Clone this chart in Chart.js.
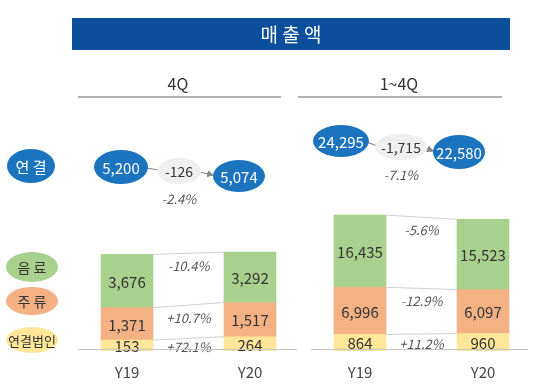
<!DOCTYPE html>
<html>
<head>
<meta charset="utf-8">
<script src="https://cdn.jsdelivr.net/npm/chart.js@4"></script>
<style>
  body { margin: 0; background: #fff; }
  #wrap { position: relative; width: 550px; height: 385px; overflow: hidden; }
  canvas, svg { position: absolute; left: 0; top: 0; }
  svg text { font-family: 'Noto Sans CJK KR', 'Noto Sans', sans-serif; }
</style>
</head>
<body>
<div id="wrap">
  <canvas id="chart4q" width="550" height="385"></canvas>
  <canvas id="chartYtd" width="550" height="385"></canvas>
  <svg id="deco" width="550" height="385"></svg>
</div>
<script>
const categories = ["Y19", "Y20"];
const segmentNames = ["연결법인", "주 류", "음 료"];

// 4Q
const affiliates4Q = [153, 264];
const liquor4Q = [1371, 1517];
const beverage4Q = [3676, 3292];
const change4Q = ["+72.1%", "+10.7%", "-10.4%"];
const total4Q = [5200, 5074];
const totalDiff4Q = -126;
const totalPct4Q = "-2.4%";

// 1~4Q
const affiliatesYtd = [864, 960];
const liquorYtd = [6996, 6097];
const beverageYtd = [16435, 15523];
const changeYtd = ["+11.2%", "-12.9%", "-5.6%"];
const totalYtd = [24295, 22580];
const totalDiffYtd = -1715;
const totalPctYtd = "-7.1%";

const segColors = ["#ffe699", "#f4b183", "#a9d18e"];
const blue = "#1c74bf";
const fontFamily = "'Noto Sans CJK KR', 'Noto Sans', sans-serif";

Chart.defaults.font.family = fontFamily;

const fmt = (v) => v.toLocaleString("en-US");

// the source draws the segments compressed (not to scale); square root
// keeps the order of sizes while leaving room for the small labels
const squash = (v) => Math.sqrt(v);

const barPlugin = {
    id: "barExtras",
    afterDatasetsDraw(chart, args, opts) {
        const ctx = chart.ctx;
        ctx.save();
        chart.data.datasets.forEach((ds, i) => {
            const bars = chart.getDatasetMeta(i).data;
            // value labels
            ctx.fillStyle = "#333";
            ctx.font = "15px " + fontFamily;
            ctx.textAlign = "center";
            ctx.textBaseline = "middle";
            bars.forEach((bar, j) => {
                const mid = (bar.y + bar.base) / 2;
                ctx.fillText(fmt(ds.raw[j]), bar.x, mid + 1);
            });
            // connector between the two bars
            const a = bars[0], b = bars[1];
            const x1 = a.x + a.width / 2, x2 = b.x - b.width / 2;
            ctx.strokeStyle = "#cfcfcf";
            ctx.lineWidth = 1;
            ctx.beginPath();
            ctx.moveTo(x1, a.y);
            ctx.lineTo(x2, b.y);
            ctx.stroke();
            // change label, near the top of the band
            const top = (a.y + b.y) / 2;
            const mid = (a.y + a.base + b.y + b.base) / 4;
            ctx.fillStyle = "#555";
            ctx.font = "italic 13px " + fontFamily;
            ctx.fillText(opts.changes[i], (x1 + x2) / 2, Math.min(top + 13, mid + 2));
        });
        ctx.restore();
    }
};

const makeChart = (id, sets, changes, yMax, padLeft, padRight) => {
    const ctx = document.getElementById(id).getContext("2d");
    return new Chart(ctx, {
        type: "bar",
        data: {
            labels: categories,
            datasets: sets.map((vals, i) => ({
                label: segmentNames[i],
                data: vals.map(squash),
                raw: vals,
                backgroundColor: segColors[i],
                borderWidth: 0,
                barThickness: 52
            }))
        },
        options: {
            responsive: false,
            animation: false,
            layout: { padding: { left: padLeft, right: padRight, top: 200, bottom: 0 } },
            plugins: {
                legend: { display: false },
                tooltip: { enabled: false },
                barExtras: { changes: changes }
            },
            scales: {
                x: {
                    stacked: true,
                    grid: { display: false },
                    border: { display: false },
                    ticks: { color: "#444", font: { size: 15 }, padding: 4 }
                },
                y: {
                    stacked: true,
                    display: false,
                    min: 0,
                    max: yMax
                }
            }
        },
        plugins: [barPlugin]
    });
};

makeChart("chart4q", [affiliates4Q, liquor4Q, beverage4Q], change4Q, 172, 65.5, 238.5);
makeChart("chartYtd", [affiliatesYtd, liquorYtd, beverageYtd], changeYtd, 268, 298.5, 5.5);

// decorations: title, headers, totals bubbles, side labels
const svg = document.getElementById("deco");
const NS = "http://www.w3.org/2000/svg";
const add = (tag, attrs, text) => {
    const el = document.createElementNS(NS, tag);
    for (const k in attrs) el.setAttribute(k, attrs[k]);
    if (text !== undefined) el.textContent = text;
    svg.appendChild(el);
    return el;
};
const label = (x, y, text, size, color, extra) =>
    add("text", Object.assign({ x: x, y: y, "font-size": size, fill: color,
        "text-anchor": "middle", "dominant-baseline": "central" }, extra || {}), text);
const bubble = (cx, cy, rx, ry, fill, text, size, color) => {
    add("ellipse", { cx: cx, cy: cy, rx: rx, ry: ry, fill: fill });
    label(cx, cy, text, size, color);
};

add("defs", {}).innerHTML =
    '<marker id="ah" markerWidth="6" markerHeight="6" refX="5" refY="3" orient="auto">' +
    '<path d="M0,0 L6,3 L0,6 z" fill="#888"/></marker>';

add("rect", { x: 72, y: 18, width: 438, height: 32, fill: "#0b4f9c" });
label(291, 33, "매 출 액", 19, "#fff");

label(178, 83, "4Q", 16, "#333");
add("line", { x1: 78, y1: 97, x2: 281, y2: 97, stroke: "#999", "stroke-width": 1.5 });
label(399, 83, "1~4Q", 16, "#333");
add("line", { x1: 298, y1: 97, x2: 502, y2: 97, stroke: "#999", "stroke-width": 1.5 });

add("line", { x1: 78, y1: 349.5, x2: 297, y2: 349.5, stroke: "#c4c4c4", "stroke-width": 1 });
add("line", { x1: 311, y1: 349.5, x2: 528, y2: 349.5, stroke: "#c4c4c4", "stroke-width": 1 });

// side labels
bubble(31, 166, 24, 17, blue, "연 결", 15, "#fff");
bubble(32, 267, 26, 15, segColors[2], segmentNames[2], 14, "#333");
bubble(32, 301, 26, 14, segColors[1], segmentNames[1], 14, "#333");
bubble(32, 340, 26, 13, segColors[0], segmentNames[0], 13, "#333");

// total flow bubbles
const flow = (a, b, c, vals, diff, pct) => {
    add("line", { x1: a[0] + a[2] - 2, y1: a[1] + 1, x2: b[0] - b[2] + 2, y2: b[1] - 1, stroke: "#888", "stroke-width": 1.2 });
    add("line", { x1: b[0] + b[2] - 2, y1: b[1] + 1, x2: c[0] - c[2], y2: c[1] - 1, stroke: "#888", "stroke-width": 1.2, "marker-end": "url(#ah)" });
    bubble(b[0], b[1], b[2], b[3], "#efefef", fmt(diff), 14, "#333");
    bubble(a[0], a[1], a[2], a[3], blue, fmt(vals[0]), 15, "#fff");
    bubble(c[0], c[1], c[2], c[3], blue, fmt(vals[1]), 15, "#fff");
    label(b[0], b[1] + 27, pct, 13, "#555", { "font-style": "italic" });
};
flow([121, 167, 27, 17], [179, 171, 22, 13], [239, 176, 26, 16], total4Q, totalDiff4Q, totalPct4Q);
flow([341, 141, 28, 16], [401, 147, 26, 13], [459, 152, 26, 17], totalYtd, totalDiffYtd, totalPctYtd);
</script>
</body>
</html>
